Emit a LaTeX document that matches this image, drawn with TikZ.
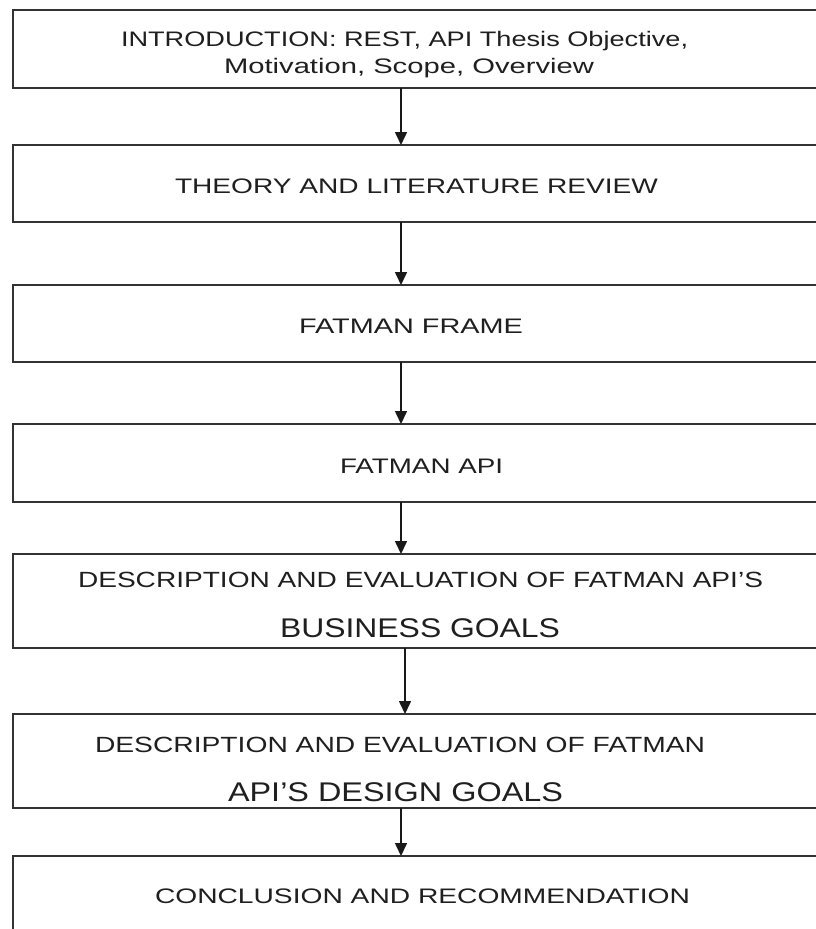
\documentclass[tikz,border=0pt]{standalone}
\usepackage{fontspec}
\setmainfont{Liberation Sans}
\usetikzlibrary{arrows.meta}
% one line of caption text: width (pt), font size (pt), text
\newcommand\stretchline[3]{\resizebox{#1pt}{\height}{\fontsize{#2}{#2}\selectfont #3}}
\begin{document}
\begin{tikzpicture}[x=1pt,y=-1pt,
  chapbox/.style={draw=black!80, line width=2pt, minimum width=817pt, inner sep=0pt, outer sep=0pt},
  caption/.style={anchor=base west, inner sep=0pt, outer sep=0pt, text=black!88},
  flow/.style={draw=black!90, line width=1.6pt, -{Triangle[length=13pt,width=12pt]}}]
\useasboundingbox (0,0) rectangle (816,929);
\clip (0,0) rectangle (816,929);
\fill[white] (0,0) rectangle (816,929);

% chapter boxes
\node[chapbox, minimum height=78pt] (intro)   at (421.5,49)  {};
\node[chapbox, minimum height=77pt] (theory)  at (421.5,183.5) {};
\node[chapbox, minimum height=77pt] (frame)   at (421.5,323.5) {};
\node[chapbox, minimum height=78pt] (api)     at (421.5,463)  {};
\node[chapbox, minimum height=94pt] (busi)    at (421.5,601)  {};
\node[chapbox, minimum height=94pt] (design)  at (421.5,761)  {};
\node[chapbox, minimum height=84pt] (concl)   at (421.5,898)  {};

% captions
\node[caption] (t1a) at (121,46)  {\stretchline{567}{21}{INTRODUCTION: REST, API Thesis Objective,}};
\node[caption] (t1b) at (224,73)  {\stretchline{370}{21}{Motivation, Scope, Overview}};
\node[caption] (t2)  at (175,193) {\stretchline{483}{21}{THEORY AND LITERATURE REVIEW}};
\node[caption] (t3)  at (299,333) {\stretchline{224}{21}{FATMAN FRAME}};
\node[caption] (t4)  at (340,473) {\stretchline{163}{21}{FATMAN API}};
\node[caption] (t5a) at (78,587)  {\stretchline{685}{22}{DESCRIPTION AND EVALUATION OF FATMAN API’S}};
\node[caption] (t5b) at (280,637) {\stretchline{280}{27}{BUSINESS GOALS}};
\node[caption] (t6a) at (95,752)  {\stretchline{610}{22}{DESCRIPTION AND EVALUATION OF FATMAN}};
\node[caption] (t6b) at (228,801) {\stretchline{335}{27}{API’S DESIGN GOALS}};
\node[caption] (t7)  at (155,903) {\stretchline{535}{21}{CONCLUSION AND RECOMMENDATION}};

% connector columns
\coordinate (colA) at (401,0);
\coordinate (colB) at (405,0);

\draw[flow] (intro.south -| colA)  -- (theory.north -| colA);
\draw[flow] (theory.south -| colA) -- (frame.north -| colA);
\draw[flow] (frame.south -| colA)  -- (api.north -| colA);
\draw[flow] (api.south -| colA)    -- (busi.north -| colA);
\draw[flow] (busi.south -| colB)   -- (design.north -| colB);
\draw[flow] (design.south -| colA) -- (concl.north -| colA);
\end{tikzpicture}
\end{document}
